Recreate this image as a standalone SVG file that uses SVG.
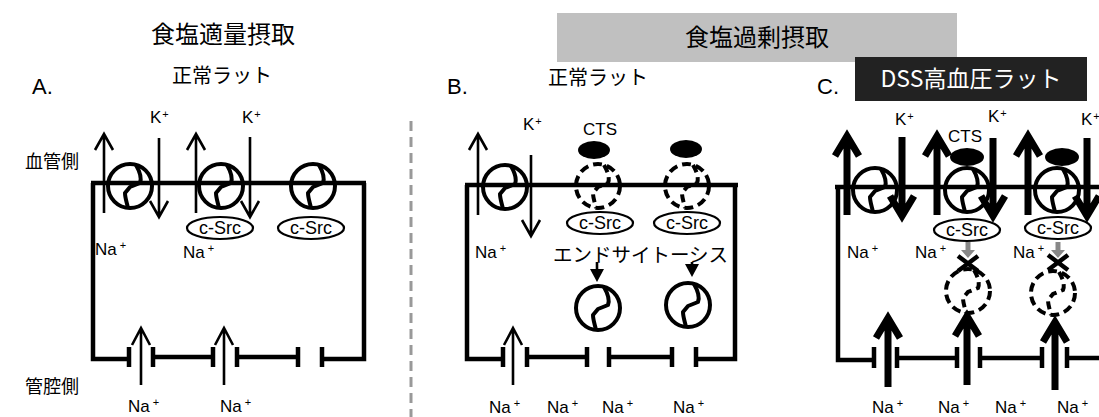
<svg xmlns="http://www.w3.org/2000/svg" width="1099" height="417" viewBox="0 0 1099 417">
  <style>
    .jp { font-family: "Noto Sans CJK JP", sans-serif; fill: #000; }
    .lat { font-family: "Liberation Sans", Arial, sans-serif; fill: #000; }
    .ion { font-family: "Liberation Sans", Arial, sans-serif; font-size: 17px; fill: #000; }
    .sup { font-size: 11px; }
    .wall { stroke: #000; stroke-width: 4.5; fill: none; }
    .thin { stroke: #000; stroke-width: 2.6; fill: none; stroke-linejoin: miter; }
    .bold { stroke: #000; stroke-width: 7; fill: none; stroke-linejoin: miter; }
    .src { stroke: #000; stroke-width: 2.2; fill: #fff; }
    .srct { font-family: "Liberation Sans", Arial, sans-serif; font-size: 18px; text-anchor: middle; fill: #000; }
    .cts { fill: #000; }
  </style>
  <defs>
    <!-- Na/K pump: ring with a kinked channel -->
    <g id="pump">
      <circle r="22" fill="none" stroke="#000" stroke-width="4"/>
      <path d="M6,-21 C10,-14 12,-8 10,-3 L0,1 L-5,7 C-5,12 -3,17 -2,22" fill="none" stroke="#000" stroke-width="4" stroke-linejoin="round"/>
    </g>
    <!-- pump that has been taken in / is inactive -->
    <g id="pumpDash">
      <circle r="22" fill="none" stroke="#000" stroke-width="4" stroke-dasharray="9 5"/>
      <path d="M6,-21 C10,-14 12,-8 10,-3 L0,1 L-5,7 C-5,12 -3,17 -2,22" fill="none" stroke="#000" stroke-width="4" stroke-dasharray="8 5"/>
    </g>
  </defs>

  <!-- headings -->
  <g id="head-normal">
    <text class="jp" x="223" y="43" font-size="24" text-anchor="middle">食塩適量摂取</text>
  </g>
  <g id="head-excess">
    <rect x="557" y="13" width="400" height="49" fill="#c0c0c0"/>
    <text class="jp" x="757" y="46" font-size="24" text-anchor="middle">食塩過剰摂取</text>
  </g>
  <g id="side-labels">
    <text class="jp" x="25" y="168" font-size="18">血管側</text>
    <text class="jp" x="25" y="393" font-size="18">管腔側</text>
  </g>

  <!-- panel separator -->
  <g id="connectors">
    <line x1="411" y1="121" x2="411" y2="417" stroke="#999" stroke-width="3" stroke-dasharray="10 6"/>
  </g>

  <!-- ============ Panel A ============ -->
  <g id="panelA">
    <text class="lat" x="32" y="94" font-size="22">A.</text>
    <text class="jp" x="222" y="83" font-size="20" text-anchor="middle">正常ラット</text>
    <path class="wall" d="M91,183 H366 M93,183 V359 H129 M364,183 V359 H322 M153,357 H213 M237,357 H298"/>
    <path class="wall" d="M129,347 V367 M153,347 V367 M213,347 V367 M237,347 V367 M298,347 V367 M322,347 V367"/>
    <use href="#pump" x="130" y="186"/>
    <use href="#pump" x="221" y="186"/>
    <use href="#pump" x="313" y="186"/>
    <path class="thin" d="M104,213 V134 M95,150 L104,134 L113,150"/>
    <path class="thin" d="M159,138 V217 M150,201 L159,217 L168,201"/>
    <path class="thin" d="M196,213 V134 M187,150 L196,134 L205,150"/>
    <path class="thin" d="M250,137 V217 M241,201 L250,217 L259,201"/>
    <ellipse class="src" cx="220" cy="228" rx="33" ry="11"/>
    <text class="srct" x="220" y="234">c-Src</text>
    <ellipse class="src" cx="311" cy="228" rx="33" ry="11"/>
    <text class="srct" x="311" y="234">c-Src</text>
    <text class="ion" x="150" y="123">K<tspan class="sup" dx="1" dy="-5">+</tspan></text>
    <text class="ion" x="242" y="123">K<tspan class="sup" dx="1" dy="-5">+</tspan></text>
    <text class="ion" x="95" y="255">Na<tspan class="sup" dx="3" dy="-6">+</tspan></text>
    <text class="ion" x="183" y="258">Na<tspan class="sup" dx="3" dy="-6">+</tspan></text>
    <path class="thin" d="M141,385 V328 M132,345 L141,328 L150,345"/>
    <path class="thin" d="M224,385 V328 M215,345 L224,328 L233,345"/>
    <text class="ion" x="128" y="412">Na<tspan class="sup" dx="3" dy="-6">+</tspan></text>
    <text class="ion" x="220" y="412">Na<tspan class="sup" dx="3" dy="-6">+</tspan></text>
  </g>

  <!-- ============ Panel B ============ -->
  <g id="panelB">
    <text class="lat" x="447" y="94" font-size="22">B.</text>
    <text class="jp" x="598" y="85" font-size="20" text-anchor="middle">正常ラット</text>
    <path class="wall" d="M465,185 H738 M467,185 V359 H503 M735,185 V359 H696 M527,357 H587 M609,357 H672"/>
    <path class="wall" d="M503,347 V367 M527,347 V367 M587,347 V367 M609,347 V367 M672,347 V367 M696,347 V367"/>
    <use href="#pump" x="505" y="187"/>
    <path class="thin" d="M478,215 V134 M469,150 L478,134 L487,150"/>
    <path class="thin" d="M531,155 V236 M522,220 L531,236 L540,220"/>
    <text class="ion" x="523" y="130">K<tspan class="sup" dx="1" dy="-5">+</tspan></text>
    <text class="lat" x="583" y="135" font-size="17">CTS</text>
    <ellipse class="cts" cx="594" cy="150" rx="16" ry="9"/>
    <ellipse class="cts" cx="686" cy="149" rx="16" ry="9"/>
    <use href="#pumpDash" x="598" y="186"/>
    <use href="#pumpDash" x="687" y="186"/>
    <ellipse class="src" cx="600" cy="223" rx="33" ry="11"/>
    <text class="srct" x="600" y="229">c-Src</text>
    <ellipse class="src" cx="687" cy="223" rx="33" ry="11"/>
    <text class="srct" x="687" y="229">c-Src</text>
    <text class="ion" x="475" y="258">Na<tspan class="sup" dx="3" dy="-6">+</tspan></text>
    <text class="jp" x="553" y="262" font-size="19.5">エンドサイトーシス</text>
    <path d="M597,262 V271" stroke="#000" stroke-width="2.6"/>
    <polygon points="590,269 604,269 597,282" fill="#000"/>
    <path d="M692,262 V266" stroke="#000" stroke-width="2.6"/>
    <polygon points="685,264 699,264 692,277" fill="#000"/>
    <use href="#pump" x="598" y="308"/>
    <use href="#pump" x="688" y="305"/>
    <path class="thin" d="M513,385 V328 M504,345 L513,328 L522,345"/>
    <text class="ion" x="489" y="413">Na<tspan class="sup" dx="3" dy="-6">+</tspan></text>
    <text class="ion" x="547" y="413">Na<tspan class="sup" dx="3" dy="-6">+</tspan></text>
    <text class="ion" x="602" y="413">Na<tspan class="sup" dx="3" dy="-6">+</tspan></text>
    <text class="ion" x="673" y="413">Na<tspan class="sup" dx="3" dy="-6">+</tspan></text>
  </g>

  <!-- ============ Panel C ============ -->
  <g id="panelC">
    <text class="lat" x="817" y="94" font-size="22">C.</text>
    <rect x="855" y="57" width="232" height="44" fill="#222"/>
    <text class="jp" x="971" y="87" font-size="23" text-anchor="middle" style="fill:#fff">DSS高血圧ラット</text>
    <path class="wall" d="M835,187 H1099 M838,187 V360 H874 M897,358 H957 M980,358 H1042 M1067,358 H1099"/>
    <path class="wall" d="M874,347 V368 M897,347 V368 M957,347 V368 M980,347 V368 M1042,347 V368 M1067,347 V368"/>
    <use href="#pump" x="875" y="190"/>
    <use href="#pump" x="967" y="190"/>
    <use href="#pump" x="1057" y="190"/>
    <ellipse class="cts" cx="967" cy="157" rx="17" ry="9"/>
    <ellipse class="cts" cx="1062" cy="157" rx="17" ry="9"/>
    <path class="bold" d="M847,215 V138 M835,156 L847,136 L859,156"/>
    <path class="bold" d="M902,137 V214 M890,196 L902,216 L914,196"/>
    <path class="bold" d="M937,215 V138 M925,156 L937,136 L949,156"/>
    <path class="bold" d="M993,138 V214 M981,196 L993,216 L1005,196"/>
    <path class="bold" d="M1028,215 V138 M1016,156 L1028,136 L1040,156"/>
    <path class="bold" d="M1087,138 V214 M1075,196 L1087,216 L1099,196"/>
    <text class="ion" x="895" y="125">K<tspan class="sup" dx="1" dy="-5">+</tspan></text>
    <text class="ion" x="988" y="122">K<tspan class="sup" dx="1" dy="-5">+</tspan></text>
    <text class="ion" x="1081" y="125">K<tspan class="sup" dx="1" dy="-5">+</tspan></text>
    <text class="lat" x="948" y="142" font-size="17">CTS</text>
    <ellipse class="src" cx="967" cy="230" rx="33" ry="11"/>
    <text class="srct" x="967" y="236">c-Src</text>
    <ellipse class="src" cx="1058" cy="228" rx="33" ry="11"/>
    <text class="srct" x="1058" y="234">c-Src</text>
    <text class="ion" x="847" y="258">Na<tspan class="sup" dx="3" dy="-6">+</tspan></text>
    <text class="ion" x="915" y="258">Na<tspan class="sup" dx="3" dy="-6">+</tspan></text>
    <text class="ion" x="1013" y="258">Na<tspan class="sup" dx="3" dy="-6">+</tspan></text>
    <path d="M968,242 V251" stroke="#888" stroke-width="5"/>
    <polygon points="961,250 975,250 968,258" fill="#888"/>
    <path d="M1058,242 V251" stroke="#888" stroke-width="5"/>
    <polygon points="1051,250 1065,250 1058,258" fill="#888"/>
    <path d="M958,256 L978,271 M978,256 L958,271" stroke="#000" stroke-width="4.5"/>
    <path d="M1048,255 L1068,270 M1068,255 L1048,270" stroke="#000" stroke-width="4.5"/>
    <use href="#pumpDash" x="968" y="291"/>
    <use href="#pumpDash" x="1053" y="293"/>
    <path class="bold" d="M888,387 V322 M876,338 L888,318 L900,338"/>
    <path class="bold" d="M967,385 V320 M955,336 L967,316 L979,336"/>
    <path class="bold" d="M1055,390 V326 M1043,342 L1055,322 L1067,342"/>
    <text class="ion" x="872" y="413">Na<tspan class="sup" dx="3" dy="-6">+</tspan></text>
    <text class="ion" x="938" y="413">Na<tspan class="sup" dx="3" dy="-6">+</tspan></text>
    <text class="ion" x="995" y="413">Na<tspan class="sup" dx="3" dy="-6">+</tspan></text>
    <text class="ion" x="1057" y="413">Na<tspan class="sup" dx="3" dy="-6">+</tspan></text>
  </g>
</svg>
